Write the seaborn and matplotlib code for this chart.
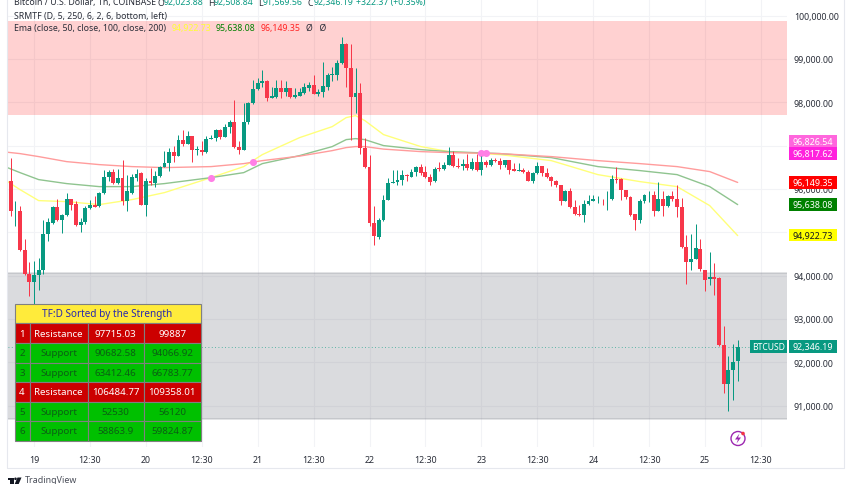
import matplotlib
matplotlib.use("Agg")
import matplotlib.pyplot as plt
from matplotlib.patches import Rectangle, Circle, Polygon
import seaborn as sns
import pandas as pd

# ---- candles (hourly, hour 0 = Feb 19 00:00 on the chart's time scale) ----
first_hour = -5
opens = [96192,95484,95499,94584,94037,93845,94022,94137,94968,95215,95591,95276,95407,95761,95653,95176,95230,95561,95622,95599,
 95899,96284,96392,96130,96253,95715,95907,96253,96368,95638,96176,96138,96292,96507,96599,96846,96753,97122,97046,97215,
 96892,96907,96846,97161,97176,97361,97200,97423,97553,96969,96899,97546,97977,98307,98446,98500,98092,98123,98330,98246,
 98330,98123,98154,98215,98331,98408,98200,98231,98354,98631,98638,98915,99354,98792,98115,98215,96946,96500,95215,94892,
 95277,95754,96138,96161,96215,96330,96285,96384,96507,96384,96269,96177,96484,96461,96554,96792,96538,96523,96569,96469,
 96615,96430,96631,96561,96677,96638,96561,96661,96461,96407,96430,96392,96192,96361,96523,96369,96277,96177,96100,95730,
 95961,95577,95423,95407,95646,95730,95761,95777,95761,95769,96238,96238,95969,95807,95423,95277,95730,95854,95869,95500,
 95769,95615,95830,95777,95577,94653,94307,94391,94622,94138,93914,93961,93938,92407,91499,91830,92023.88]
highs = [96715,95715,95599,94845,94307,94345,94407,95276,95330,95615,95768,95430,95907,95776,95715,95330,95615,95738,95830,95922,
 96445,96430,96461,96461,96676,96330,96353,96461,96384,96253,96484,96407,96538,96869,96946,96984,97253,97353,97346,97215,
 97000,97100,97230,97253,97384,97384,97507,97584,98061,97100,97984,98000,98523,98561,98753,98523,98353,98523,98523,98484,
 98330,98331,98331,98446,98461,98638,98308,98923,98677,98815,98985,99508,99369,99354,98792,98446,97177,96792,95600,95330,
 95854,96254,96446,96446,96446,96346,96469,96523,96577,96523,96346,96507,96623,96615,96969,96869,96715,96692,96815,96715,
 96815,96754,96661,96715,96723,96715,96677,96661,96600,96600,96484,96430,96384,96615,96538,96484,96292,96200,96100,95969,
 96023,95754,95638,95738,95869,95869,95830,95777,95946,96315,96507,96254,95984,95830,95423,95769,95892,95961,95946,96161,
 95961,95869,95946,96084,95792,94945,94968,95199,94845,94138,94538,94291,93969,92846,92138,92430,92508.84]
lows = [95368,95153,94561,94022,93522,93330,93660,94045,94791,95199,95253,94984,95384,95522,95153,95000,95199,95545,95584,95584,
 95884,96176,96115,96115,95638,95484,95892,96176,95622,95384,96099,96038,96276,96507,96407,96615,96753,96984,97046,96622,
 96792,96792,96830,97153,97100,97153,97192,97292,96946,96807,96892,97507,97969,98292,98353,98023,98092,98100,98100,98138,
 98100,98100,98138,98200,98269,98192,98138,98115,98292,98485,98523,98892,98354,97138,97754,96815,96484,95138,94715,94854,
 95254,95738,96138,96100,96100,96177,96269,96307,96330,96254,96100,96161,96407,96446,96546,96507,96484,96446,96446,96446,
 96407,96330,96507,96538,96623,96461,96507,96354,96407,96407,96369,96177,96138,96346,96292,96254,96061,96046,95638,95715,
 95561,95407,95384,95230,95623,95715,95677,95638,95507,95754,96138,95754,95769,95384,95061,95215,95677,95692,95369,95484,
 95369,95584,95715,95353,94638,93807,94122,94384,94114,93637,93791,93561,92369,91292,90869,91138,91569.56]
closes = [95484,95499,94584,94037,93845,94022,94137,94968,95230,95591,95276,95407,95761,95638,95176,95230,95561,95622,95591,95899,
 96284,96392,96130,96253,95715,95945,96276,96353,95638,96176,96138,96292,96507,96607,96846,96753,97122,97046,97215,96907,
 96923,96861,97161,97184,97361,97192,97423,97553,96969,96899,97546,97977,98307,98446,98500,98092,98146,98330,98246,98330,
 98115,98169,98231,98354,98408,98200,98238,98369,98631,98662,98915,99354,98792,98115,98215,96946,96500,95215,94907,95277,
 95754,96138,96161,96215,96330,96292,96392,96507,96369,96269,96169,96469,96461,96561,96792,96523,96515,96569,96484,96615,
 96430,96631,96561,96677,96638,96561,96661,96446,96423,96446,96392,96192,96361,96523,96369,96277,96177,96100,95730,95961,
 95577,95423,95400,95646,95730,95761,95777,95761,95777,96238,96215,95969,95807,95407,95292,95730,95854,95869,95500,95769,
 95615,95830,95777,95577,94661,94307,94391,94630,94153,93907,93961,93930,92407,91499,91830,92000,92346.19]

# ---- moving averages, read at these hours ----
ema_hours = [-6,-3,1,7,14,21,28,38,45,49,57,64,67,69,71,75,83,89,100,111,121,130,138,145,151]
ema50 = [96192,95984,95730,95707,95638,95753,95915,96261,96515,96792,97184,97438,97646,97692,97577,97254,96977,96861,96792,96653,96330,96169,96053,95615,94922.73]
ema100 = [96504,96376,96215,96123,96053,96053,96123,96261,96376,96584,96769,96977,97138,97161,97138,97000,96907,96861,96815,96723,96515,96423,96330,96053,95638.08]
ema200 = [96850,96815,96746,96630,96561,96515,96492,96515,96584,96653,96757,96884,96954,96977,96977,96919,96861,96838,96815,96746,96653,96584,96515,96400,96149.35]
cross_hours = [38, 47, 96, 97]
cross_prices = [96261, 96630, 96826.54, 96817.62]

# ---- levels, axes labels, table ----
bands = [(97715.03, 99887), (90682.58, 94066.92)]
last_price = 92346.19
y_ticks = [91000,92000,93000,94000,95000,96000,97000,98000,99000,100000]
x_ticks = [0,12,24,36,48,60,72,84,96,108,120,132,144,156]
x_labels = ["19","12:30","20","12:30","21","12:30","22","12:30","23","12:30","24","12:30","25","12:30"]
table_head = "TF:D Sorted by the Strength"
table_rows = [("1","Resistance","97715.03","99887"),("2","Support","90682.58","94066.92"),
              ("3","Support","63412.46","66783.77"),("4","Resistance","106484.77","109358.01"),
              ("5","Support","52530","56120"),("6","Support","58863.9","59824.87")]
tags = [("96,826.54","#FF66DD","#FFFFFF",96826.54),("96,817.62","#FF22DD","#FFFFFF",96817.62),
        ("96,149.35","#FF0000","#FFFFFF",96149.35),("95,638.08","#008000","#FFFFFF",95638.08),
        ("94,922.73","#FFFF00","#131722",94922.73)]

UP, DOWN = "#089981", "#F7374A"
FONT = "Noto Sans"
LABEL = 6.4
sns.set_theme(style="white")
plt.rcParams["font.family"] = [FONT, "DejaVu Sans"]

fig = plt.figure(figsize=(8.52, 4.85), dpi=100, facecolor="white")
ax = fig.add_axes([8/852, 37/485, 779/852, 448/485])
for s in ax.spines.values():
    s.set_visible(False)
ax.yaxis.tick_right()
ax.set_yticks(y_ticks, [f"{v:,.2f}" for v in y_ticks])
ax.set_xticks(x_ticks, x_labels)
ax.tick_params(axis="y", length=0, pad=5, labelsize=LABEL, labelcolor="#2A2E39")
ax.tick_params(axis="x", length=0, pad=6, labelsize=LABEL, labelcolor="#2A2E39")
ax.grid(True, color="#F2F3F6", lw=0.8)
ax.set_axisbelow(True)

ax.axhspan(bands[0][0], bands[0][1], facecolor="#FF0000", alpha=0.18, lw=0, zorder=1)
ax.axhspan(bands[1][0], bands[1][1], facecolor="#787B86", alpha=0.27, lw=0, zorder=1)
for v in bands[1]:
    ax.axhline(v, color="#787B86", alpha=0.25, lw=1.2, zorder=1)

df = pd.DataFrame({"h": ema_hours, "e50": ema50, "e100": ema100, "e200": ema200})
sns.lineplot(data=df, x="h", y="e50", ax=ax, color="#FFFF7A", lw=1.0, estimator=None, zorder=2)
sns.lineplot(data=df, x="h", y="e100", ax=ax, color="#8FC48F", lw=1.0, estimator=None, zorder=2)
sns.lineplot(data=df, x="h", y="e200", ax=ax, color="#FF9C9C", lw=1.0, estimator=None, zorder=2)
ax.set_xlabel(""); ax.set_ylabel("")
sns.scatterplot(x=cross_hours, y=cross_prices, ax=ax, color="#FF80E6", s=26, linewidth=0, zorder=3)

hours = list(range(first_hour, first_hour + len(opens)))
cols = [UP if c >= o else DOWN for o, c in zip(opens, closes)]
ax.vlines(hours, lows, highs, colors=cols, lw=0.72, zorder=4)
ax.bar(hours, [abs(c-o) for o, c in zip(opens, closes)], bottom=[min(o, c) for o, c in zip(opens, closes)],
       width=0.84, color=cols, lw=0, zorder=5)
ax.axhline(last_price, color=UP, lw=0.6, alpha=0.8, ls=(0, (1, 3)), zorder=3)
ax.set_ylim(100000-432*23.08+14, 100000+16*23.08+14)
ax.set_xlim((8-34)/4.66, (787-34)/4.66)

# ---- overlay in picture pixels: legend text, tags, table, logo ----
ov = fig.add_axes([0, 0, 1, 1], zorder=10)
ov.set_xlim(0, 852); ov.set_ylim(485, 0); ov.axis("off"); ov.patch.set_visible(False)
INK = "#2A2E39"
def t(x, y, s, c=INK, fs=6.3, ha="left", **kw):
    ov.text(x, y, s, color=c, fontsize=fs, ha=ha, va="center", **kw)

t(13.5, 3, "Bitcoin / U.S. Dollar, 1h, COINBASE")
for x, a, b in [(158, "O", "92,023.88"), (208, "H", "92,508.84"), (258, "L", "91,569.56"), (308, "C", "92,346.19")]:
    t(x, 3, a)
    t(x + (4.6 if a == "L" else 5.8), 3, b, UP)
t(356, 3, "+322.37 (+0.35%)", UP)
t(13.5, 16, "SRMTF (D, 5, 250, 6, 2, 6, bottom, left)")
t(13.5, 28.5, "Ema (close, 50, close, 100, close, 200)")
t(172, 28.5, "94,922.73", "#FFFF33")
t(216, 28.5, "95,638.08", "#008000")
t(261, 28.5, "96,149.35", "#FF2222")
t(306, 28.5, "Ø   Ø")

# price tags
def py(p):
    return 16 + (100000 - p) * 0.04333
box_y = [136, 148.4, 177.3, 199.4, 230]
for (s, bg, fg, p), y0 in zip(tags, box_y):
    ov.add_patch(Rectangle((788.5, y0), 48, 12.4, fc=bg, ec="none"))
    t(813, y0 + 6.2, s, fg, LABEL, "center")
y0 = py(last_price) - 6.3
ov.add_patch(Rectangle((750, y0), 37, 12.6, fc=UP, ec="none"))
t(768.5, y0 + 6.3, "BTCUSD", "white", 6.2, "center")
ov.add_patch(Rectangle((788.5, y0), 48, 12.6, fc=UP, ec="none"))
t(813, y0 + 6.3, "92,346.19", "white", LABEL, "center")

# table
cx = [14.5, 29.5, 87.5, 144, 200.5]
ry = [304.5, 324.4, 344, 363.5, 383, 402.5, 422, 441.7]
ov.add_patch(Rectangle((cx[0], ry[0]), cx[-1]-cx[0], ry[1]-ry[0], fc="#FFEB3B", ec="#808080", lw=0.8))
t((cx[0]+cx[-1])/2, (ry[0]+ry[1])/2, table_head, "#2727B0", 7.2, "center")
for i, row in enumerate(table_rows):
    res = row[1] == "Resistance"
    for j, s in enumerate(row):
        ov.add_patch(Rectangle((cx[j], ry[i+1]), cx[j+1]-cx[j], ry[i+2]-ry[i+1],
                               fc="#CC0000" if res else "#00C000", ec="#808080", lw=0.8))
        t((cx[j]+cx[j+1])/2, (ry[i+1]+ry[i+2])/2, s, "white" if res else "#0B5F14", 7.0, "center")

# frame
ov.plot([7, 7, 844, 844], [0, 469, 469, 0], color="#E6E8EE", lw=0.8)

# lightning badge
ov.add_patch(Circle((738, 439.5), 7, fc="white", ec="#9C27B0", lw=1.0))
ov.add_patch(Polygon([(739.5, 434.5), (735, 440.5), (738, 440.5), (736.5, 444.5), (741, 438.5), (738, 438.5)], fc="#9C27B0", ec="none"))
ov.add_patch(Circle((743, 434.5), 1.8, fc="#F23645", ec="none"))

# footer logo
ov.add_patch(Rectangle((7.5, 478.5), 6, 2.6, fc="#131722", ec="none"))
ov.add_patch(Rectangle((10.3, 478.5), 3.2, 7, fc="#131722", ec="none"))
ov.add_patch(Circle((15.5, 479.8), 1.3, fc="#131722", ec="none"))
ov.add_patch(Polygon([(17.5, 478.5), (21.5, 478.5), (18.5, 485.5), (14.5, 485.5)], fc="#131722", ec="none"))
t(25, 480.5, "TradingView", "#4A4E59", 6.4)

fig.savefig("out.png", dpi=100)
